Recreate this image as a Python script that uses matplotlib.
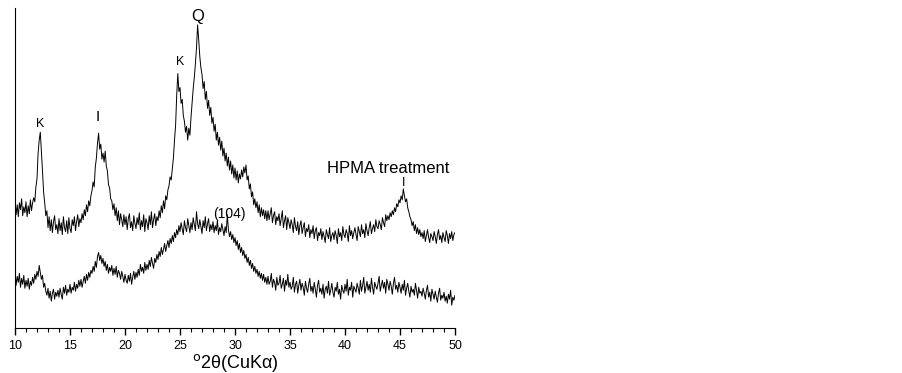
import numpy as np
import matplotlib
matplotlib.use('Agg')
import matplotlib.pyplot as plt
from matplotlib.ticker import MultipleLocator

plt.rcParams['font.family'] = ['Liberation Sans', 'DejaVu Sans']

# 2theta grid, 0.1 degree steps from 10 to 50
two_theta = np.round(np.arange(10.0, 50.05, 0.1), 1)

# HPMA treated sample (upper trace)
hpma = [
    128, 114, 124, 112, 126, 119, 130, 113, 122, 116,
    127, 112, 123, 115, 129, 118, 126, 131, 127, 142,
    150, 176, 189, 197, 178, 158, 137, 126, 113, 118,
    101, 112, 98, 109, 96, 107, 113, 99, 104, 95,
    110, 98, 106, 94, 112, 101, 97, 108, 95, 111,
    100, 96, 109, 103, 112, 98, 107, 114, 102, 110,
    106, 115, 109, 119, 113, 124, 117, 128, 123, 133,
    138, 147, 142, 162, 171, 186, 196, 180, 185, 170,
    176, 167, 178, 163, 158, 144, 141, 130, 128, 119,
    125, 113, 121, 108, 118, 104, 115, 109, 102, 114,
    104, 112, 99, 110, 115, 101, 107, 98, 113, 105,
    100, 111, 104, 116, 99, 108, 102, 114, 97, 110,
    106, 99, 113, 104, 117, 101, 109, 115, 103, 112,
    108, 118, 111, 123, 116, 128, 120, 133, 129, 139,
    143, 152, 149, 160, 171, 189, 204, 234, 256, 238,
    242, 226, 230, 214, 208, 197, 203, 189, 201, 194,
    212, 226, 241, 252, 266, 282, 305, 290, 273, 262,
    255, 241, 248, 230, 238, 221, 229, 214, 222, 206,
    212, 198, 205, 189, 197, 184, 192, 179, 188, 173,
    181, 168, 176, 163, 172, 159, 168, 155, 164, 151,
    161, 149, 158, 146, 155, 150, 159, 152, 162, 156,
    164, 149, 153, 140, 145, 132, 137, 124, 130, 121,
    127, 116, 124, 112, 121, 113, 119, 110, 118, 108,
    118, 109, 115, 121, 106, 113, 117, 104, 112, 108,
    115, 103, 110, 118, 101, 108, 113, 99, 111, 106,
    100, 109, 104, 96, 111, 102, 98, 107, 94, 103,
    108, 95, 101, 106, 92, 100, 97, 104, 91, 99,
    95, 103, 90, 98, 101, 88, 96, 93, 100, 89,
    97, 92, 86, 99, 94, 90, 101, 87, 93, 96,
    89, 98, 93, 85, 100, 92, 96, 88, 102, 94,
    91, 99, 95, 87, 103, 93, 98, 90, 96, 101,
    94, 88, 102, 97, 92, 104, 95, 99, 91, 105,
    98, 93, 101, 107, 95, 100, 104, 97, 109, 102,
    100, 108, 104, 99, 111, 106, 102, 114, 108, 113,
    109, 116, 112, 118, 114, 121, 117, 125, 122, 129,
    126, 133, 129, 140, 133, 127, 130, 121, 117, 112,
    109, 103, 107, 98, 104, 95, 101, 94, 99, 92,
    96, 90, 98, 87, 93, 99, 91, 86, 95, 92,
    88, 97, 92, 85, 94, 99, 89, 93, 86, 96,
    91, 87, 98, 93, 85, 95, 90, 97, 88, 94,
    96,
]

# untreated sample (lower trace)
untreated = [
    56, 43, 52, 46, 55, 41, 50, 44, 53, 40,
    48, 42, 50, 39, 47, 43, 51, 45, 54, 49,
    57, 52, 63, 56, 49, 53, 41, 45, 37, 33,
    40, 30, 37, 27, 35, 39, 29, 36, 32, 38,
    31, 40, 34, 29, 41, 35, 43, 33, 39, 36,
    44, 35, 41, 38, 46, 37, 44, 40, 48, 42,
    49, 41, 47, 52, 45, 54, 48, 56, 51, 58,
    55, 62, 57, 67, 61, 72, 76, 68, 73, 65,
    70, 62, 67, 58, 64, 55, 61, 57, 63, 53,
    60, 54, 62, 51, 58, 55, 49, 57, 52, 46,
    54, 48, 45, 53, 47, 55, 44, 51, 57, 49,
    56, 51, 59, 53, 64, 57, 61, 55, 66, 58,
    64, 59, 68, 62, 71, 65, 60, 70, 66, 74,
    69, 77, 72, 81, 74, 79, 85, 77, 83, 88,
    81, 90, 85, 93, 87, 96, 91, 99, 94, 103,
    97, 106, 100, 94, 108, 101, 97, 110, 103, 96,
    106, 99, 111, 104, 98, 117, 105, 100, 109, 102,
    95, 108, 101, 112, 98, 105, 110, 97, 104, 99,
    107, 96, 103, 98, 108, 94, 101, 97, 105, 99,
    93, 102, 96, 114, 99, 92, 97, 89, 94, 86,
    91, 83, 88, 79, 85, 76, 81, 73, 78, 70,
    74, 66, 71, 63, 68, 60, 65, 57, 62, 55,
    59, 52, 57, 50, 55, 48, 54, 46, 51, 44,
    52, 44, 47, 55, 41, 49, 46, 38, 51, 43,
    45, 53, 40, 44, 50, 37, 48, 43, 54, 41,
    46, 39, 42, 51, 36, 44, 47, 35, 43, 49,
    38, 45, 41, 33, 47, 40, 36, 44, 50, 37,
    42, 35, 46, 39, 31, 43, 48, 36, 40, 34,
    44, 30, 39, 42, 35, 47, 33, 38, 45, 36,
    31, 41, 37, 46, 34, 39, 29, 43, 38, 35,
    44, 37, 49, 33, 41, 38, 46, 31, 42, 39,
    36, 45, 40, 34, 48, 37, 43, 51, 35, 41,
    47, 38, 44, 36, 50, 41, 34, 46, 42, 39,
    45, 52, 37, 43, 48, 40, 46, 35, 49, 44,
    38, 47, 42, 34, 45, 51, 39, 43, 36, 46,
    41, 35, 44, 38, 48, 33, 40, 45, 37, 31,
    42, 36, 39, 33, 45, 38, 30, 41, 35, 37,
    32, 40, 35, 29, 38, 43, 31, 36, 27, 39,
    34, 29, 37, 31, 26, 35, 40, 28, 33, 30,
    36, 27, 32, 25, 34, 29, 38, 23, 31, 28,
    33,
]

# peak labels: (text, 2theta, height, fontsize)
peak_labels = [
    ('K', 12.3, 205, 9),
    ('I', 17.5, 212, 11),
    ('K', 25.0, 268, 9),
    ('Q', 26.6, 313, 12),
    ('HPMA treatment', 43.9, 160, 12),
    ('I', 45.3, 146, 9),
    ('(104)', 29.5, 115, 10),
]

fig = plt.figure(figsize=(9.03, 3.73), dpi=100)
ax = fig.add_axes([0.0166, 0.1206, 0.4873, 0.858])

ax.plot(two_theta, hpma, color='black', linewidth=0.7)
ax.plot(two_theta, untreated, color='black', linewidth=0.7)

for txt, x, y, fs in peak_labels:
    ax.text(x, y, txt, ha='center', va='center', fontsize=fs)

ax.set_xlim(10, 50)
ax.set_ylim(0, 322)
ax.xaxis.set_major_locator(MultipleLocator(5))
ax.xaxis.set_minor_locator(MultipleLocator(1))
ax.tick_params(axis='x', which='major', direction='out', length=5, width=1, labelsize=9)
ax.tick_params(axis='x', which='minor', direction='out', length=3, width=0.8)
ax.set_yticks([])
ax.spines['top'].set_visible(False)
ax.spines['right'].set_visible(False)
ax.set_xlabel(r'$^{\rm o}$2θ(CuKα)', fontsize=13, labelpad=0)

fig.savefig('out.png', dpi=100)
